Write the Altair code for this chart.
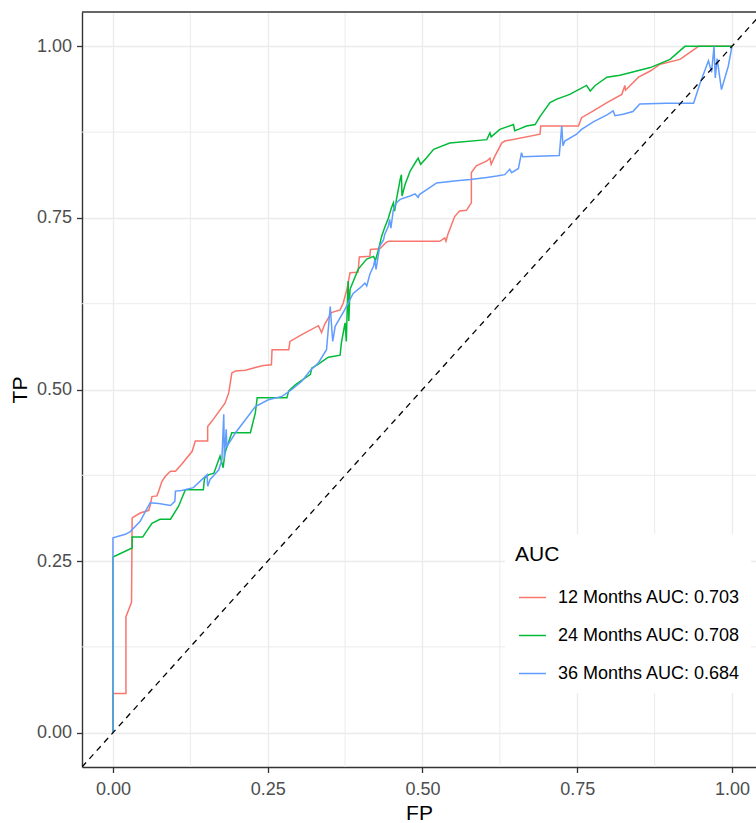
import altair as alt
import pandas as pd

# ---------------- data ----------------
labels = ["12 Months AUC: 0.703", "24 Months AUC: 0.708", "36 Months AUC: 0.684"]
colors = ["#F8766D", "#00BA38", "#619CFF"]

fp12 = [0.000, 0.000, 0.021, 0.021, 0.030, 0.031, 0.044, 0.058, 0.061, 0.063, 0.071, 0.074, 0.079, 0.085,
        0.093, 0.101, 0.111, 0.128, 0.133, 0.153, 0.153, 0.160, 0.181, 0.187, 0.192, 0.198, 0.214, 0.230,
        0.243, 0.256, 0.257, 0.284, 0.286, 0.305, 0.332, 0.337, 0.342, 0.353, 0.367, 0.372, 0.378, 0.383,
        0.396, 0.398, 0.415, 0.416, 0.431, 0.441, 0.445, 0.528, 0.536, 0.538, 0.541, 0.544, 0.552, 0.560,
        0.571, 0.579, 0.579, 0.587, 0.604, 0.609, 0.611, 0.617, 0.628, 0.633, 0.690, 0.691, 0.752, 0.757,
        0.776, 0.798, 0.822, 0.827, 0.828, 0.849, 0.868, 0.884, 0.916, 0.943, 0.946, 1.000]
tp12 = [0.000, 0.057, 0.057, 0.169, 0.190, 0.313, 0.320, 0.324, 0.335, 0.344, 0.345, 0.352, 0.366, 0.374,
        0.381, 0.381, 0.391, 0.410, 0.425, 0.425, 0.446, 0.454, 0.480, 0.495, 0.524, 0.527, 0.528, 0.532,
        0.535, 0.536, 0.558, 0.558, 0.570, 0.580, 0.593, 0.583, 0.595, 0.612, 0.616, 0.626, 0.646, 0.670,
        0.671, 0.693, 0.694, 0.704, 0.705, 0.714, 0.716, 0.716, 0.721, 0.716, 0.726, 0.733, 0.752, 0.760,
        0.761, 0.772, 0.816, 0.826, 0.833, 0.837, 0.828, 0.840, 0.859, 0.862, 0.872, 0.884, 0.884, 0.896,
        0.906, 0.918, 0.930, 0.943, 0.936, 0.955, 0.964, 0.974, 0.981, 0.998, 1.000, 1.000]

fp24 = [0.000, 0.000, 0.031, 0.031, 0.048, 0.063, 0.076, 0.093, 0.106, 0.117, 0.146, 0.148, 0.155, 0.163,
        0.173, 0.178, 0.181, 0.192, 0.222, 0.230, 0.233, 0.281, 0.284, 0.295, 0.319, 0.321, 0.330, 0.348,
        0.367, 0.369, 0.375, 0.377, 0.379, 0.380, 0.381, 0.383, 0.396, 0.410, 0.421, 0.424, 0.429, 0.434,
        0.439, 0.445, 0.450, 0.453, 0.455, 0.458, 0.464, 0.466, 0.467, 0.472, 0.480, 0.488, 0.493, 0.497,
        0.506, 0.518, 0.544, 0.604, 0.609, 0.611, 0.625, 0.647, 0.649, 0.655, 0.668, 0.682, 0.690, 0.706,
        0.717, 0.738, 0.765, 0.771, 0.779, 0.798, 0.819, 0.846, 0.868, 0.900, 0.924, 1.000]
tp24 = [0.000, 0.256, 0.269, 0.285, 0.285, 0.305, 0.311, 0.311, 0.330, 0.354, 0.354, 0.371, 0.376, 0.378,
        0.403, 0.386, 0.408, 0.437, 0.437, 0.466, 0.488, 0.488, 0.498, 0.507, 0.522, 0.531, 0.536, 0.547,
        0.550, 0.568, 0.597, 0.570, 0.635, 0.658, 0.600, 0.646, 0.675, 0.690, 0.694, 0.688, 0.704, 0.723,
        0.736, 0.750, 0.765, 0.772, 0.760, 0.777, 0.806, 0.813, 0.782, 0.799, 0.818, 0.830, 0.837, 0.828,
        0.837, 0.850, 0.859, 0.864, 0.874, 0.868, 0.879, 0.886, 0.877, 0.879, 0.884, 0.886, 0.898, 0.918,
        0.923, 0.930, 0.943, 0.935, 0.943, 0.955, 0.958, 0.964, 0.969, 0.981, 1.000, 1.000]

fp36 = [0.000, 0.000, 0.020, 0.028, 0.044, 0.060, 0.074, 0.093, 0.100, 0.101, 0.111, 0.130, 0.152, 0.153,
        0.157, 0.171, 0.176, 0.179, 0.180, 0.183, 0.184, 0.198, 0.214, 0.230, 0.251, 0.273, 0.289, 0.305,
        0.318, 0.332, 0.345, 0.351, 0.355, 0.359, 0.375, 0.388, 0.399, 0.407, 0.410, 0.415, 0.421, 0.423,
        0.425, 0.431, 0.437, 0.439, 0.445, 0.447, 0.449, 0.453, 0.458, 0.464, 0.480, 0.488, 0.493, 0.495,
        0.523, 0.555, 0.577, 0.604, 0.620, 0.633, 0.641, 0.644, 0.655, 0.660, 0.662, 0.721, 0.725, 0.727,
        0.730, 0.749, 0.757, 0.776, 0.798, 0.808, 0.811, 0.824, 0.840, 0.851, 0.894, 0.938, 0.948, 0.962,
        0.967, 0.971, 0.973, 0.976, 0.983, 0.994, 1.000]
tp36 = [0.000, 0.284, 0.289, 0.293, 0.308, 0.335, 0.334, 0.331, 0.337, 0.352, 0.353, 0.357, 0.376, 0.359,
        0.369, 0.383, 0.398, 0.464, 0.400, 0.442, 0.417, 0.437, 0.456, 0.475, 0.485, 0.490, 0.500, 0.512,
        0.527, 0.539, 0.558, 0.621, 0.570, 0.592, 0.617, 0.640, 0.648, 0.655, 0.651, 0.668, 0.680, 0.689,
        0.675, 0.709, 0.718, 0.726, 0.738, 0.748, 0.735, 0.762, 0.772, 0.777, 0.782, 0.785, 0.780, 0.784,
        0.801, 0.804, 0.806, 0.809, 0.811, 0.813, 0.821, 0.816, 0.822, 0.845, 0.839, 0.841, 0.884, 0.855,
        0.862, 0.872, 0.879, 0.890, 0.900, 0.906, 0.899, 0.901, 0.905, 0.916, 0.917, 0.917, 0.945, 0.979,
        0.962, 1.000, 0.954, 0.982, 0.937, 0.971, 1.000]

major_breaks = [0.0, 0.25, 0.5, 0.75, 1.0]
minor_breaks = [0.125, 0.375, 0.625, 0.875]
x_domain = [-0.05, 1.0388]
y_domain = [-0.05, 1.05]
diag = [-0.05, 1.05]

# ---------------- build tables ----------------
rows = []
for lab, fps, tps in zip(labels, [fp12, fp24, fp36], [tp12, tp24, tp36]):
    for i, (f, t) in enumerate(zip(fps, tps)):
        rows.append({"curve": lab, "FP": f, "TP": t, "order": i})
df = pd.DataFrame(rows)
minor_df = pd.DataFrame({"FP": minor_breaks, "TP": minor_breaks})
diag_df = pd.DataFrame({"FP": diag, "TP": diag})
top_df = pd.DataFrame({"TP": [y_domain[1]]})

FONT = "Liberation Sans"
xscale = alt.Scale(domain=x_domain, nice=False, zero=False)
yscale = alt.Scale(domain=y_domain, nice=False, zero=False)
xaxis = alt.Axis(values=major_breaks, format=".2f", title="FP", labelPadding=8, titlePadding=4)
yaxis = alt.Axis(values=major_breaks, format=".2f", title="TP", labelPadding=5, titlePadding=6)

X = alt.X("FP:Q", scale=xscale, axis=xaxis)
Y = alt.Y("TP:Q", scale=yscale, axis=yaxis)

minor_x = alt.Chart(minor_df).mark_rule(color="#EBEBEB", strokeWidth=1.0).encode(x=X)
minor_y = alt.Chart(minor_df).mark_rule(color="#EBEBEB", strokeWidth=1.0).encode(y=Y)

lines = alt.Chart(df).mark_line(strokeWidth=1.5, clip=True).encode(
    x=X,
    y=Y,
    color=alt.Color("curve:N", scale=alt.Scale(domain=labels, range=colors),
                    legend=alt.Legend(title="AUC", orient="none", legendX=423, legendY=522,
                                      fillColor="white", padding=10,
                                      symbolType="stroke", symbolSize=729,
                                      symbolStrokeWidth=1.5, symbolOffset=3,
                                      labelFont=FONT, labelFontSize=18, labelColor="black",
                                      labelOffset=11, labelLimit=0, rowPadding=14,
                                      titleFont=FONT, titleFontSize=21,
                                      titleFontWeight="normal", titleColor="black",
                                      titlePadding=18)),
    order=alt.Order("order:Q"),
)

diag_line = alt.Chart(diag_df).mark_line(
    color="black", strokeDash=[6, 5], strokeWidth=1.3, clip=True
).encode(x=X, y=Y)

top_border = alt.Chart(top_df).mark_rule(color="#333333", strokeWidth=1.4).encode(y=Y)

chart = alt.layer(minor_x, minor_y, lines, diag_line, top_border).properties(
    width=674,
    height=755,
    background="white",
    autosize=alt.AutoSizeParams(type="none"),
    padding={"left": 82, "top": 12, "right": 0, "bottom": 56},
).configure_view(
    stroke=None
).configure_axis(
    labelFont=FONT, labelFontSize=18, labelColor="#4D4D4D",
    titleFont=FONT, titleFontSize=21, titleFontWeight="normal", titleColor="black",
    tickColor="#333333", tickSize=5.5, tickWidth=1.3,
    domain=True, domainColor="#333333", domainWidth=1.4,
    grid=True, gridColor="#EBEBEB", gridWidth=1.3,
)

chart.save("out.html", embed_options={"renderer": "svg", "actions": False})
